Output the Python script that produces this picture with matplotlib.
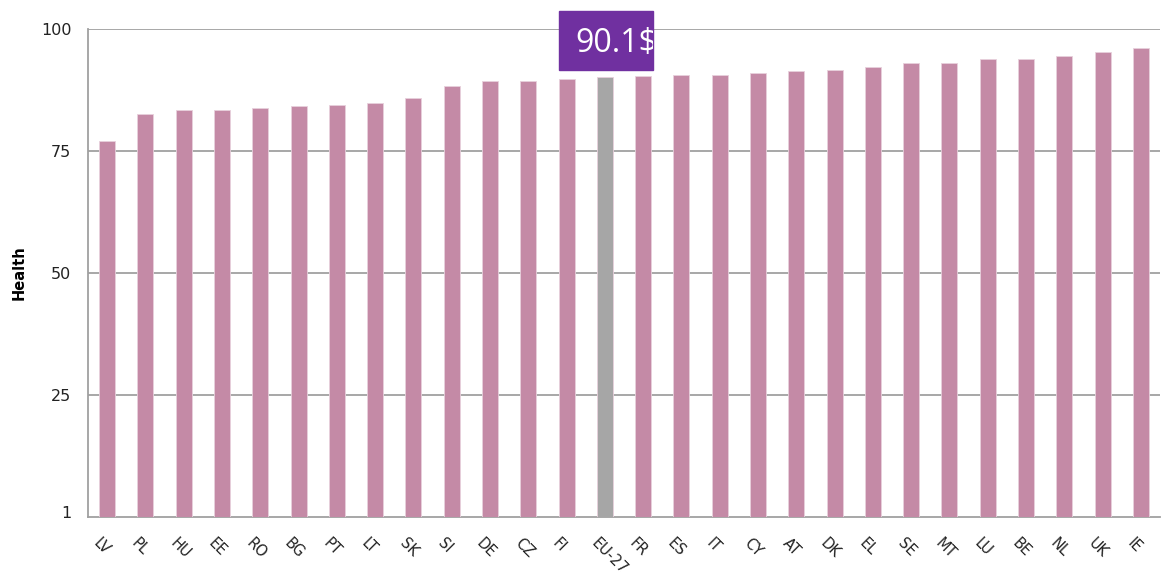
import numpy as np
import matplotlib.pyplot as plt
from matplotlib.patches import Rectangle
from matplotlib.transforms import Bbox, ScaledTranslation

plt.rcParams['font.family'] = ['DejaVu Sans']

# ======================== 数据 ========================
countries = ['LV', 'PL', 'HU', 'EE', 'RO', 'BG', 'PT', 'LT', 'SK', 'SI', 'DE', 'CZ', 'FI',
             'EU-27', 'FR', 'ES', 'IT', 'CY', 'AT', 'DK', 'EL', 'SE', 'MT', 'LU', 'BE',
             'NL', 'UK', 'IE']
health = [77.0, 82.5, 83.5, 83.5, 83.9, 84.2, 84.5, 84.8, 85.8, 88.4, 89.4, 89.4, 89.7,
          90.1, 90.3, 90.6, 90.6, 91.0, 91.3, 91.7, 92.3, 93.0, 93.0, 93.9, 93.9,
          94.5, 95.2, 96.2]
y_ticks = [1, 25, 50, 75, 100]
highlight = 'EU-27'
note_text = '90.1$'

PINK = '#C48AA6'
GREY_BAR = '#A6A6A6'
PURPLE = '#7030A0'
GRID = '#A0A0A0'

# ======================== 绘图 ========================
W, H = 1161, 577
fig = plt.figure(figsize=(W / 100, H / 100), dpi=100)
ax = fig.add_axes([88 / W, 1 - 517 / H, (1160 - 88) / W, (517 - 29) / H])

x = np.arange(len(countries))
colors = [GREY_BAR if c == highlight else PINK for c in countries]
ax.bar(x, health, width=0.42, color=colors, edgecolor='#E8D0DC', linewidth=0.6, zorder=3)

ax.set_xlim(-0.5, len(countries) - 0.5)
ax.set_ylim(0, 100)
ax.set_yticks(y_ticks)
ax.set_yticklabels([str(v) for v in y_ticks], fontsize=11.5, color='#222222')
for v in y_ticks[1:]:
    ax.axhline(v, color=GRID, linewidth=1.3, zorder=1)

ax.set_xticks(x)
ax.set_xticklabels(countries, rotation=-45, ha='left', va='top',
                   rotation_mode='anchor', fontsize=10.5, color='#222222')
ax.tick_params(axis='x', length=0, pad=13)
ax.tick_params(axis='y', length=0, pad=12)
# 标签略向左移
shift = ScaledTranslation(-6 / 100, 0, fig.dpi_scale_trans)
for lbl in ax.get_xticklabels():
    lbl.set_transform(lbl.get_transform() + shift)

ax.set_ylabel('Health', fontsize=10.5, fontweight='bold', va='center')
ax.yaxis.set_label_coords(-(88 - 19) / (1160 - 88), 0.5)

for side in ['top', 'right']:
    ax.spines[side].set_visible(False)
for side in ['left', 'bottom']:
    ax.spines[side].set_color(GRID)
    ax.spines[side].set_linewidth(1.3)

# 紫色标注框（文字右侧被框裁掉）
bx0, bx1, by0, by1 = 559, 653, 11, 70
fig.patches.append(Rectangle((bx0 / W, 1 - by1 / H), (bx1 - bx0) / W, (by1 - by0) / H,
                             transform=fig.transFigure, color=PURPLE, zorder=5))
t = fig.text(575 / W, 1 - 43 / H, note_text, color='white', fontsize=23,
             ha='left', va='center', zorder=6, family='Open Sans')
t.set_clip_box(Bbox([[bx0, H - by1], [bx1, H - by0]]))
t.set_clip_on(True)

fig.savefig('out.png', dpi=100)
